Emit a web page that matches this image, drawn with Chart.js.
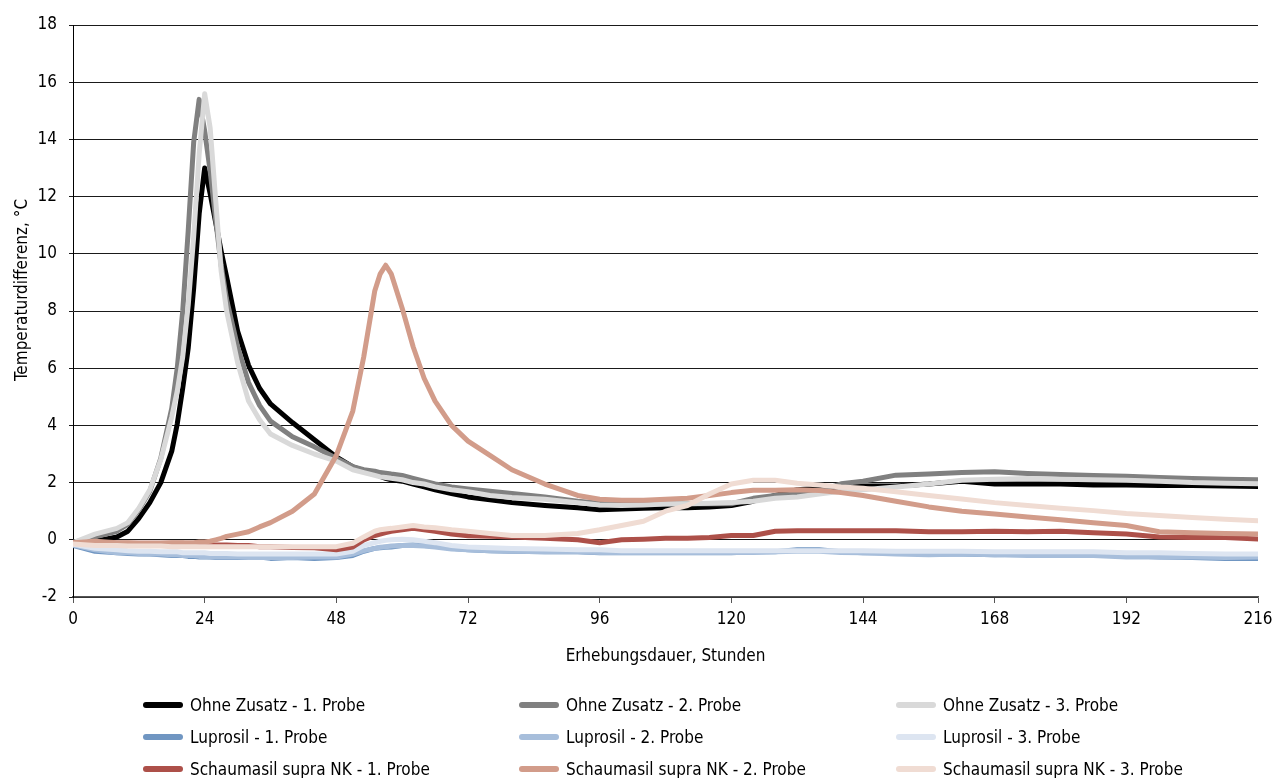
<!DOCTYPE html>
<html>
<head>
<meta charset="utf-8">
<script src="https://cdn.jsdelivr.net/npm/chart.js@4.4.1/dist/chart.umd.min.js"></script>
<style>
  html, body { margin: 0; padding: 0; background: #fff; }
  #wrap { position: relative; width: 1274px; height: 778px; }
  #chart { position: absolute; left: 0; top: 0; }
  #legend { position: absolute; left: 0; top: 689px; width: 1274px; }
  .item { position: absolute; height: 32px; display: flex; align-items: center;
          font-family: 'Liberation Sans Narrow', 'DejaVu Sans Condensed', sans-serif;
          font-size: 17px; color: #000; white-space: nowrap; }
  .swatch { display: inline-block; width: 40px; height: 6px; border-radius: 3px; margin-right: 7px; }
</style>
</head>
<body>
<div id="wrap">
  <canvas id="chart" width="1274" height="778"></canvas>
  <div id="legend"></div>
</div>
<script>
// Erhebungsdauer in Stunden (gemeinsame x-Werte aller Reihen)
const hours = [0, 4, 8, 10, 12, 14, 16, 18,
  19, 20, 21, 22, 23, 24, 25, 26, 27, 28,
  30, 32, 34, 36, 40, 44, 48,
  51, 53, 55, 56, 57, 58,
  60, 62, 64, 66, 69, 72,
  76, 80, 86, 92, 96,
  100, 104, 108, 112, 116, 120,
  124, 128, 132, 136, 140, 144,
  150, 156, 162, 168, 174, 180,
  186, 192, 198, 204, 210, 216];

const ohne1 = [-0.1, -0.05, 0.1, 0.3, 0.75, 1.3, 2.0, 3.1,
  4.05, 5.3, 6.7, 8.8, 11.4, 13.0, 12.1, 11.1, 10.1, 9.2,
  7.3, 6.1, 5.3, 4.75, 4.1, 3.5, 2.9,
  2.55, 2.42, 2.3, 2.22, 2.15, 2.1,
  2.05, 1.95, 1.85, 1.75, 1.62, 1.5,
  1.4, 1.3, 1.2, 1.12, 1.05,
  1.08, 1.1, 1.12, 1.12, 1.15, 1.2,
  1.35, 1.55, 1.75, 1.8, 1.85, 1.88,
  1.88, 1.95, 2.05, 1.95, 1.95, 1.95,
  1.92, 1.92, 1.9, 1.9, 1.88, 1.86];

const ohne2 = [-0.1, 0.1, 0.3, 0.55, 1.05, 1.7, 2.85, 4.6,
  6.0, 8.0, 10.8, 13.9, 15.4, 14.3, 12.9, 11.2, 9.6, 8.4,
  6.75, 5.5, 4.7, 4.15, 3.6, 3.25, 2.85,
  2.56, 2.45, 2.4, 2.35, 2.33, 2.3,
  2.25, 2.15, 2.05, 1.95, 1.85, 1.78,
  1.7, 1.62, 1.5, 1.35, 1.28,
  1.25, 1.25, 1.25, 1.26, 1.26, 1.26,
  1.45, 1.55, 1.6, 1.7, 1.96, 2.05,
  2.26, 2.3, 2.35, 2.38, 2.32, 2.28,
  2.25, 2.22, 2.18, 2.14, 2.12, 2.1];

const ohne3 = [-0.1, 0.2, 0.4, 0.6, 1.1, 1.75, 2.8, 4.3,
  5.2, 6.4, 8.2, 10.6, 13.5, 15.6, 14.4, 11.9, 9.4, 8.0,
  6.2, 4.85, 4.2, 3.7, 3.3, 3.0, 2.75,
  2.45, 2.35, 2.25, 2.2, 2.18, 2.15,
  2.1, 2.0, 1.95, 1.85, 1.75, 1.68,
  1.55, 1.48, 1.42, 1.3, 1.22,
  1.2, 1.22, 1.25, 1.26, 1.28, 1.3,
  1.35, 1.45, 1.5, 1.6, 1.7, 1.75,
  1.85, 1.95, 2.08, 2.12, 2.14, 2.12,
  2.1, 2.08, 2.05, 2.0, 1.98, 1.96];

const luprosil1 = [-0.2, -0.4, -0.45, -0.48, -0.5, -0.5, -0.52, -0.55,
  -0.55, -0.55, -0.58, -0.58, -0.6, -0.6, -0.6, -0.62, -0.62, -0.62,
  -0.62, -0.62, -0.6, -0.65, -0.62, -0.65, -0.62,
  -0.55, -0.4, -0.3, -0.28, -0.26, -0.25,
  -0.2, -0.18, -0.2, -0.22, -0.3, -0.35,
  -0.38, -0.4, -0.42, -0.42, -0.45,
  -0.45, -0.45, -0.45, -0.45, -0.45, -0.45,
  -0.42, -0.42, -0.35, -0.35, -0.42, -0.45,
  -0.45, -0.5, -0.5, -0.52, -0.5, -0.5,
  -0.55, -0.55, -0.6, -0.62, -0.65, -0.65];

const luprosil2 = [-0.18, -0.35, -0.45, -0.45, -0.48, -0.5, -0.5, -0.52,
  -0.52, -0.55, -0.55, -0.55, -0.58, -0.58, -0.6, -0.6, -0.6, -0.6,
  -0.6, -0.62, -0.62, -0.62, -0.62, -0.6, -0.6,
  -0.5, -0.38, -0.3, -0.26, -0.24, -0.22,
  -0.2, -0.2, -0.22, -0.25, -0.32, -0.35,
  -0.38, -0.4, -0.42, -0.42, -0.44,
  -0.44, -0.44, -0.44, -0.44, -0.44, -0.44,
  -0.44, -0.42, -0.4, -0.4, -0.44, -0.45,
  -0.5, -0.52, -0.5, -0.52, -0.55, -0.55,
  -0.55, -0.6, -0.6, -0.6, -0.62, -0.6];

const luprosil3 = [-0.15, -0.3, -0.35, -0.38, -0.4, -0.4, -0.42, -0.42,
  -0.42, -0.45, -0.45, -0.45, -0.45, -0.45, -0.48, -0.48, -0.48, -0.48,
  -0.5, -0.5, -0.5, -0.5, -0.5, -0.5, -0.5,
  -0.4, -0.2, -0.1, -0.05, -0.02, 0.0,
  0.02, 0.0, -0.05, -0.1, -0.2, -0.25,
  -0.28, -0.3, -0.32, -0.35, -0.35,
  -0.38, -0.38, -0.38, -0.38, -0.38, -0.38,
  -0.38, -0.38, -0.38, -0.38, -0.38, -0.38,
  -0.4, -0.4, -0.4, -0.42, -0.42, -0.42,
  -0.42, -0.45, -0.45, -0.48, -0.5, -0.5];

const schaum1 = [-0.1, -0.12, -0.12, -0.12, -0.12, -0.12, -0.12, -0.12,
  -0.12, -0.12, -0.15, -0.15, -0.18, -0.18, -0.18, -0.18, -0.18, -0.18,
  -0.2, -0.2, -0.24, -0.24, -0.27, -0.28, -0.35,
  -0.25, 0.0, 0.15, 0.2, 0.25, 0.3,
  0.35, 0.4, 0.35, 0.3, 0.2, 0.14,
  0.12, 0.1, 0.05, 0.0, -0.1,
  0.0, 0.02, 0.05, 0.05, 0.08, 0.15,
  0.15, 0.3, 0.32, 0.32, 0.32, 0.32,
  0.32, 0.28, 0.28, 0.3, 0.28, 0.3,
  0.25, 0.2, 0.1, 0.08, 0.08, 0.03];

const schaum2 = [-0.1, -0.05, -0.1, -0.1, -0.12, -0.12, -0.12, -0.1,
  -0.1, -0.1, -0.1, -0.1, -0.08, -0.08, -0.05, 0.0, 0.05, 0.12,
  0.2, 0.28, 0.45, 0.6, 1.0, 1.6, 2.95,
  4.5, 6.4, 8.7, 9.3, 9.6, 9.3,
  8.1, 6.75, 5.65, 4.85, 4.0, 3.45,
  2.95, 2.45, 1.95, 1.55, 1.42,
  1.38, 1.38, 1.42, 1.45, 1.55, 1.65,
  1.73, 1.73, 1.75, 1.72, 1.65, 1.55,
  1.35, 1.15, 1.0, 0.9, 0.8, 0.7,
  0.6, 0.5, 0.28, 0.25, 0.22, 0.2];

const schaum3 = [-0.15, -0.2, -0.2, -0.22, -0.22, -0.22, -0.22, -0.24,
  -0.24, -0.24, -0.24, -0.24, -0.24, -0.24, -0.24, -0.24, -0.24, -0.24,
  -0.24, -0.24, -0.24, -0.24, -0.24, -0.24, -0.24,
  -0.12, 0.1, 0.3, 0.35, 0.38, 0.4,
  0.45, 0.5, 0.45, 0.42, 0.35, 0.3,
  0.22, 0.15, 0.15, 0.22, 0.35,
  0.5, 0.65, 1.0, 1.2, 1.6, 1.95,
  2.08, 2.08, 1.98, 1.92, 1.85, 1.8,
  1.68, 1.55, 1.43, 1.3, 1.2, 1.1,
  1.02, 0.92, 0.85, 0.78, 0.72, 0.67];

const labels = ['Ohne Zusatz - 1. Probe', 'Ohne Zusatz - 2. Probe', 'Ohne Zusatz - 3. Probe',
  'Luprosil - 1. Probe', 'Luprosil - 2. Probe', 'Luprosil - 3. Probe',
  'Schaumasil supra NK - 1. Probe', 'Schaumasil supra NK - 2. Probe', 'Schaumasil supra NK - 3. Probe'];
const values = [ohne1, ohne2, ohne3, luprosil1, luprosil2, luprosil3, schaum1, schaum2, schaum3];
const colors = ['#000000', '#808080', '#d9d9d9',
  '#7096c2', '#a7bedb', '#dde5f1',
  '#ad5049', '#d29c8a', '#f0dcd3'];

const yTicks = [-2, 0, 2, 4, 6, 8, 10, 12, 14, 16, 18];
const xTicks = [0, 24, 48, 72, 96, 120, 144, 168, 192, 216];
const yTitle = 'Temperaturdifferenz, °C';
const xTitle = 'Erhebungsdauer, Stunden';

const fontFamily = "'Liberation Sans Narrow', 'DejaVu Sans Condensed', sans-serif";
const font = { family: fontFamily, size: 17 };

const datasets = values.map(function(vals, i) {
    return {
        label: labels[i],
        data: hours.map(function(h, j) { return { x: h, y: vals[j] }; }),
        borderColor: colors[i],
        backgroundColor: colors[i],
        borderWidth: 5,
        pointRadius: 0,
        tension: 0,
        borderJoinStyle: 'round',
        borderCapStyle: 'round',
        // spaetere Reihen oben zeichnen
        order: values.length - i
    };
});

// Achsentitel links, etwas oberhalb der Mitte wie im Original
const yTitlePlugin = {
    id: 'yTitle',
    afterDraw: function(chart) {
        const c = chart.ctx;
        c.save();
        c.translate(23, 290);
        c.rotate(-Math.PI / 2);
        c.font = '17px ' + fontFamily;
        c.fillStyle = '#000';
        c.textAlign = 'center';
        c.textBaseline = 'middle';
        c.fillText(yTitle, 0, 0);
        c.restore();
    }
};

const ctx = document.getElementById('chart').getContext('2d');
const chart = new Chart(ctx, {
    type: 'line',
    data: { datasets: datasets },
    plugins: [yTitlePlugin],
    options: {
        responsive: false,
        animation: false,
        layout: { padding: { top: 25, right: 16, bottom: 98, left: 0 } },
        plugins: { legend: { display: false }, tooltip: { enabled: false } },
        scales: {
            x: {
                type: 'linear',
                min: 0,
                max: 216,
                afterBuildTicks: function(scale) { scale.ticks = xTicks.map(function(v) { return { value: v }; }); },
                ticks: { color: '#000', font: font, padding: 6, maxRotation: 0 },
                grid: { drawOnChartArea: false, drawTicks: true, tickLength: 6, color: '#555' },
                border: { color: '#555', width: 1.5 },
                title: { display: true, text: xTitle, color: '#000', font: font,
                         padding: { top: 0, bottom: 13 } },
                afterFit: function(scale) {
                    scale.height = 83;
                    scale.paddingLeft = 0;
                    scale.paddingRight = 0;
                }
            },
            y: {
                min: -2,
                max: 18,
                afterBuildTicks: function(scale) { scale.ticks = yTicks.map(function(v) { return { value: v }; }); },
                ticks: { color: '#000', font: font, padding: 12 },
                grid: { color: '#1a1a1a', lineWidth: 1, tickLength: 4 },
                border: { color: '#000', width: 1 },
                title: { display: false },
                afterFit: function(scale) {
                    scale.width = 73;
                    scale.paddingTop = 0;
                    scale.paddingBottom = 0;
                }
            }
        }
    }
});

// Legende: 3 Spalten x 3 Zeilen
const legendEl = document.getElementById('legend');
const colX = [143, 519, 896];
labels.forEach(function(text, i) {
    const item = document.createElement('div');
    item.className = 'item';
    item.style.left = colX[i % 3] + 'px';
    item.style.top = (Math.floor(i / 3) * 32) + 'px';
    const sw = document.createElement('span');
    sw.className = 'swatch';
    sw.style.background = colors[i];
    item.appendChild(sw);
    item.appendChild(document.createTextNode(text));
    legendEl.appendChild(item);
});
</script>
</body>
</html>
